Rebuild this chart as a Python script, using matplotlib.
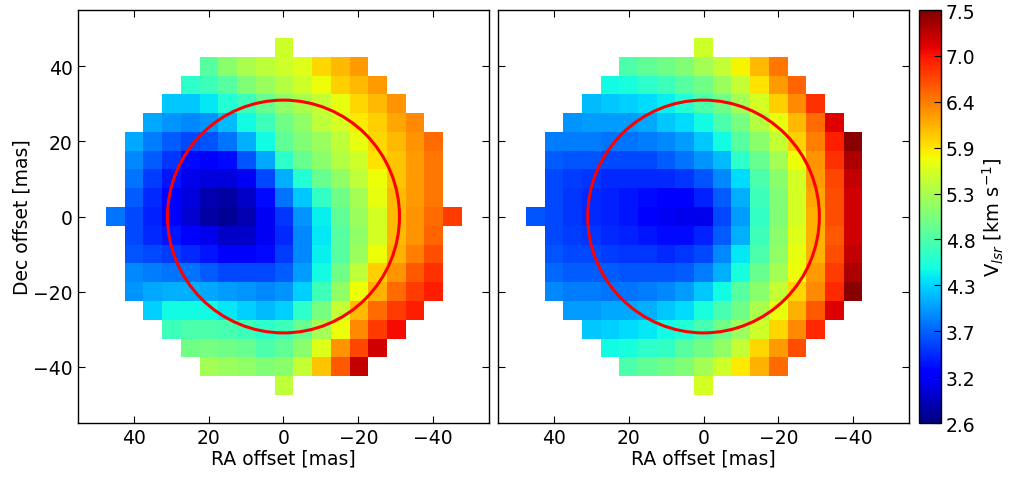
import numpy as np
import matplotlib
matplotlib.use("Agg")
import matplotlib.pyplot as plt
from matplotlib.patches import Circle

n = np.nan

# velocity maps, rows from Dec +45 (top) to -45 (bottom), columns RA +45 (left) to -45 (right)
vel_left = np.array([
    [n, n, n, n, n, n, n, n, n, 5.55, n, n, n, n, n, n, n, n, n],
    [n, n, n, n, n, 4.85, 5.15, 5.35, 5.45, 5.55, 5.65, 5.95, 6.10, 6.25, n, n, n, n, n],
    [n, n, n, n, 4.60, 4.70, 4.85, 5.10, 5.25, 5.40, 5.55, 5.75, 6.00, 6.10, 6.25, n, n, n, n],
    [n, n, n, 4.20, 4.20, 4.35, 4.55, 4.70, 4.95, 5.20, 5.35, 5.50, 5.70, 5.95, 6.10, 6.30, n, n, n],
    [n, n, 4.05, 3.95, 3.90, 3.95, 4.15, 4.45, 4.70, 5.00, 5.20, 5.45, 5.60, 5.85, 6.00, 6.20, 6.35, n, n],
    [n, 4.05, 3.85, 3.70, 3.60, 3.65, 3.80, 4.10, 4.45, 4.90, 5.10, 5.25, 5.45, 5.70, 5.95, 6.10, 6.30, 6.50, n],
    [n, 3.90, 3.70, 3.50, 3.30, 3.25, 3.30, 3.65, 4.05, 4.60, 4.95, 5.15, 5.40, 5.55, 5.90, 6.05, 6.25, 6.45, n],
    [n, 3.80, 3.55, 3.35, 3.10, 3.05, 3.05, 3.15, 3.60, 4.10, 4.55, 4.95, 5.20, 5.45, 5.75, 6.05, 6.25, 6.45, n],
    [n, 3.70, 3.45, 3.25, 3.05, 2.85, 2.80, 2.95, 3.30, 3.80, 4.20, 4.65, 5.00, 5.30, 5.70, 6.10, 6.25, 6.45, n],
    [3.80, 3.60, 3.40, 3.20, 3.00, 2.80, 2.75, 2.85, 3.15, 3.50, 3.95, 4.40, 4.90, 5.25, 5.60, 6.10, 6.30, 6.50, 6.75],
    [n, 3.60, 3.45, 3.35, 3.20, 3.10, 2.95, 2.95, 3.15, 3.45, 3.90, 4.35, 4.85, 5.20, 5.60, 6.10, 6.30, 6.55, n],
    [n, 3.65, 3.60, 3.55, 3.45, 3.35, 3.25, 3.20, 3.30, 3.55, 3.90, 4.40, 4.85, 5.25, 5.75, 6.15, 6.40, 6.65, n],
    [n, 3.90, 3.85, 3.80, 3.80, 3.70, 3.60, 3.60, 3.60, 3.70, 4.00, 4.45, 5.00, 5.45, 6.00, 6.30, 6.60, 6.80, n],
    [n, 3.95, 4.05, 4.10, 4.10, 4.05, 4.00, 3.95, 3.90, 3.95, 4.25, 4.70, 5.20, 5.75, 6.15, 6.50, 6.75, 6.90, n],
    [n, n, 4.25, 4.45, 4.45, 4.45, 4.35, 4.25, 4.15, 4.25, 4.60, 5.05, 5.50, 6.10, 6.50, 6.75, 6.90, n, n],
    [n, n, n, 4.70, 4.80, 4.80, 4.75, 4.70, 4.60, 4.70, 4.95, 5.30, 5.75, 6.35, 6.75, 7.00, n, n, n],
    [n, n, n, n, 5.00, 5.05, 5.00, 4.95, 4.80, 4.90, 5.15, 5.65, 6.30, 6.70, 7.15, n, n, n, n],
    [n, n, n, n, n, 5.30, 5.25, 5.20, 5.10, 5.15, 5.50, 6.05, 6.60, 7.20, n, n, n, n, n],
    [n, n, n, n, n, n, n, n, n, 5.45, n, n, n, n, n, n, n, n, n],
])

vel_right = np.array([
    [n, n, n, n, n, n, n, n, n, 5.55, n, n, n, n, n, n, n, n, n],
    [n, n, n, n, n, 4.80, 4.90, 5.00, 5.10, 5.30, 5.50, 5.80, 6.10, 6.45, n, n, n, n, n],
    [n, n, n, n, 4.45, 4.50, 4.60, 4.70, 4.85, 5.00, 5.25, 5.50, 5.90, 6.25, 6.55, n, n, n, n],
    [n, n, n, 4.15, 4.20, 4.25, 4.30, 4.40, 4.55, 4.80, 5.00, 5.30, 5.60, 6.00, 6.35, 6.80, n, n, n],
    [n, n, 3.95, 4.00, 4.00, 4.00, 4.05, 4.20, 4.30, 4.45, 4.80, 5.05, 5.40, 5.70, 6.10, 6.50, 7.10, n, n],
    [n, 3.85, 3.85, 3.85, 3.80, 3.80, 3.85, 3.90, 4.00, 4.20, 4.45, 4.85, 5.15, 5.50, 6.00, 6.40, 6.90, 7.45, n],
    [n, 3.70, 3.65, 3.65, 3.60, 3.60, 3.60, 3.70, 3.80, 3.95, 4.15, 4.60, 4.95, 5.30, 5.75, 6.30, 6.80, 7.30, n],
    [n, 3.60, 3.55, 3.50, 3.45, 3.45, 3.45, 3.45, 3.50, 3.65, 3.90, 4.30, 4.80, 5.15, 5.60, 6.25, 6.70, 7.20, n],
    [n, 3.60, 3.50, 3.45, 3.40, 3.35, 3.30, 3.25, 3.25, 3.40, 3.70, 4.10, 4.70, 5.10, 5.60, 6.20, 6.65, 7.15, n],
    [3.65, 3.60, 3.50, 3.45, 3.40, 3.35, 3.25, 3.15, 3.10, 3.10, 3.60, 4.00, 4.65, 5.10, 5.60, 6.15, 6.65, 7.15, n],
    [n, 3.60, 3.55, 3.50, 3.45, 3.40, 3.35, 3.30, 3.30, 3.40, 3.70, 4.10, 4.70, 5.15, 5.65, 6.15, 6.60, 7.15, n],
    [n, 3.65, 3.60, 3.60, 3.55, 3.50, 3.50, 3.45, 3.50, 3.60, 3.90, 4.35, 4.80, 5.20, 5.70, 6.15, 6.65, 7.20, n],
    [n, 3.75, 3.70, 3.70, 3.70, 3.65, 3.65, 3.65, 3.70, 3.85, 4.10, 4.50, 4.95, 5.30, 5.75, 6.25, 6.75, 7.30, n],
    [n, 3.90, 3.85, 3.85, 3.80, 3.80, 3.85, 3.90, 4.00, 4.20, 4.45, 4.85, 5.15, 5.50, 5.95, 6.35, 6.85, 7.45, n],
    [n, n, 4.00, 4.00, 4.05, 4.05, 4.10, 4.20, 4.30, 4.50, 4.75, 5.00, 5.35, 5.70, 6.15, 6.60, 7.10, n, n],
    [n, n, n, 4.20, 4.25, 4.30, 4.35, 4.45, 4.55, 4.75, 5.00, 5.25, 5.55, 5.95, 6.35, 6.85, n, n, n],
    [n, n, n, n, 4.45, 4.50, 4.60, 4.65, 4.85, 5.00, 5.20, 5.50, 5.95, 6.25, 6.65, n, n, n, n],
    [n, n, n, n, n, 4.80, 4.90, 5.00, 5.10, 5.30, 5.55, 5.85, 6.15, 6.50, n, n, n, n, n],
    [n, n, n, n, n, n, n, n, n, 5.60, n, n, n, n, n, n, n, n, n],
])

cbar_labels = ["2.6", "3.2", "3.7", "4.3", "4.8", "5.3", "5.9", "6.4", "7.0", "7.5"]
vmin, vmax = 2.64, 7.5
half = 47.5          # half size of the map (19 cells of 5 mas)
ring_radius = 31.0   # mas

fs = 13.5
plt.rcParams["font.size"] = fs

fig = plt.figure(figsize=(10.26, 4.81), dpi=100)
ax1 = fig.add_axes([0.0757, 0.1185, 0.4012, 0.8586])
ax2 = fig.add_axes([0.4854, 0.1185, 0.4006, 0.8586])
cax = fig.add_axes([0.8957, 0.1185, 0.0214, 0.8586])

for ax, vel in [(ax1, vel_left), (ax2, vel_right)]:
    im = ax.imshow(vel, cmap="jet", vmin=vmin, vmax=vmax, origin="upper",
                   extent=(half, -half, -half, half), interpolation="nearest",
                   aspect="auto")
    ax.add_patch(Circle((0, 0), ring_radius, fill=False, ec="red", lw=2.2))
    ax.set_xlim(55, -55)
    ax.set_ylim(-55, 55)
    ax.set_xticks([40, 20, 0, -20, -40])
    ax.set_yticks([40, 20, 0, -20, -40])
    ax.tick_params(direction="in", top=True, right=True, length=5, labelsize=fs)
    ax.set_xlabel("RA offset [mas]", fontsize=fs, labelpad=1)
    for s in ax.spines.values():
        s.set_linewidth(1.0)

ax1.set_ylabel("Dec offset [mas]", fontsize=fs, labelpad=1)
ax2.tick_params(labelleft=False)

cb = fig.colorbar(im, cax=cax, ticks=np.linspace(vmin, vmax, len(cbar_labels)))
cb.ax.set_yticklabels(cbar_labels)
cb.ax.tick_params(direction="in", length=5, labelsize=fs)
cb.outline.set_linewidth(1.0)
cb.set_label(r"V$_{lsr}$ [km s$^{-1}$]", fontsize=fs + 0.5, labelpad=4)

fig.savefig("out.png", dpi=100)
